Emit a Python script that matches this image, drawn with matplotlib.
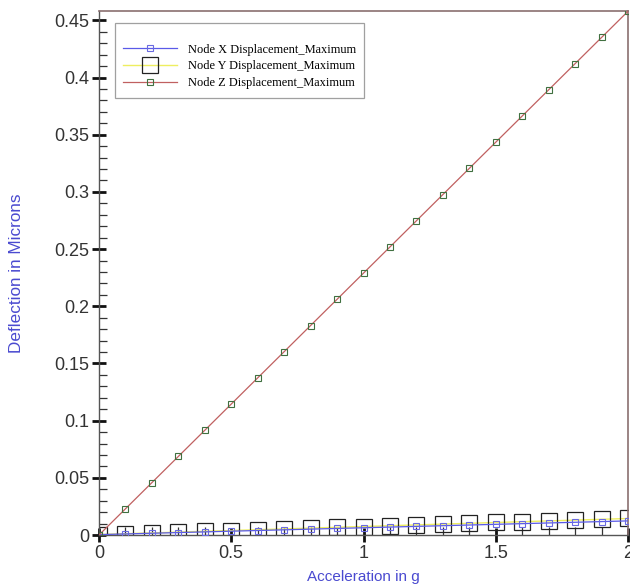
import numpy as np
import matplotlib
matplotlib.use("Agg")
import matplotlib.pyplot as plt
from matplotlib.ticker import MultipleLocator

accel = [0.0, 0.1, 0.2, 0.3, 0.4, 0.5, 0.6, 0.7, 0.8, 0.9, 1.0,
         1.1, 1.2, 1.3, 1.4, 1.5, 1.6, 1.7, 1.8, 1.9, 2.0]
node_x = [0.0004, 0.0010, 0.0016, 0.0022, 0.0028, 0.0034, 0.0040, 0.0046, 0.0052, 0.0058, 0.0064,
          0.0070, 0.0076, 0.0082, 0.0088, 0.0094, 0.0100, 0.0106, 0.0112, 0.0118, 0.0124]
node_y = [0.0005, 0.0012, 0.0019, 0.0026, 0.0033, 0.0040, 0.0047, 0.0054, 0.0061, 0.0068, 0.0075,
          0.0082, 0.0089, 0.0096, 0.0103, 0.0110, 0.0117, 0.0124, 0.0131, 0.0138, 0.0145]
node_z = [0.0, 0.0229, 0.0458, 0.0687, 0.0916, 0.1145, 0.1374, 0.1603, 0.1832, 0.2061, 0.2290,
          0.2519, 0.2748, 0.2977, 0.3206, 0.3435, 0.3664, 0.3893, 0.4122, 0.4351, 0.4580]

plt.rcParams['font.family'] = ['Liberation Sans', 'DejaVu Sans']

fig = plt.figure(figsize=(6.3, 5.88), dpi=100)
ax = fig.add_axes([0.157, 0.090, 0.840, 0.891])

ax.plot(accel, node_x, color='#5a5ae8', lw=0.9, marker='s', ms=5,
        mfc='none', mec='#6a6ae0', mew=0.8, label='Node X Displacement_Maximum', zorder=3)
ax.plot(accel, node_y, color='#eeee60', lw=1.0, marker='s', ms=12,
        mfc='none', mec='#222222', mew=0.9, label='Node Y Displacement_Maximum', zorder=2)
ax.plot(accel, node_z, color='#c06060', lw=0.9, marker='s', ms=5,
        mfc='none', mec='#407040', mew=0.8, label='Node Z Displacement_Maximum', zorder=3)

ax.set_xlim(0, 2)
ax.set_ylim(0, 0.458)
ax.xaxis.set_minor_locator(MultipleLocator(0.1))
ax.yaxis.set_minor_locator(MultipleLocator(0.01))
ax.set_xticks([0, 0.5, 1, 1.5, 2])
ax.set_xticklabels(['0', '0.5', '1', '1.5', '2'])
ax.set_yticks([0, 0.05, 0.1, 0.15, 0.2, 0.25, 0.3, 0.35, 0.4, 0.45])
ax.set_yticklabels(['0', '0.05', '0.1', '0.15', '0.2', '0.25', '0.3', '0.35', '0.4', '0.45'])

ax.tick_params(which='major', direction='inout', length=10, width=2.0,
               labelsize=13, colors='#111111', labelcolor='#333333', pad=2)
ax.tick_params(which='minor', direction='in', length=6, width=0.9, colors='#333333')
ax.tick_params(top=False, right=False, which='both')

for side in ['left', 'bottom']:
    ax.spines[side].set_color('#555555')
    ax.spines[side].set_linewidth(1.0)
for side in ['top', 'right']:
    ax.spines[side].set_color('#8a7070')
    ax.spines[side].set_linewidth(1.2)

ax.set_xlabel('Acceleration in g', color='#4a4ad0', fontsize=11, labelpad=6)
ax.set_ylabel('Deflection in Microns', color='#4a4ad0', fontsize=12.3, labelpad=22)

leg = ax.legend(loc='upper left', bbox_to_anchor=(0.03, 0.977), fancybox=False,
                borderaxespad=0, prop={'family': 'Liberation Serif', 'size': 8.9},
                borderpad=0.7, handlelength=4.3, labelspacing=0.38, handletextpad=0.9,
                title=' ', title_fontsize=5)
leg.get_frame().set_edgecolor('#888888')
leg.get_frame().set_linewidth(0.9)

fig.savefig('out.png', dpi=100)
